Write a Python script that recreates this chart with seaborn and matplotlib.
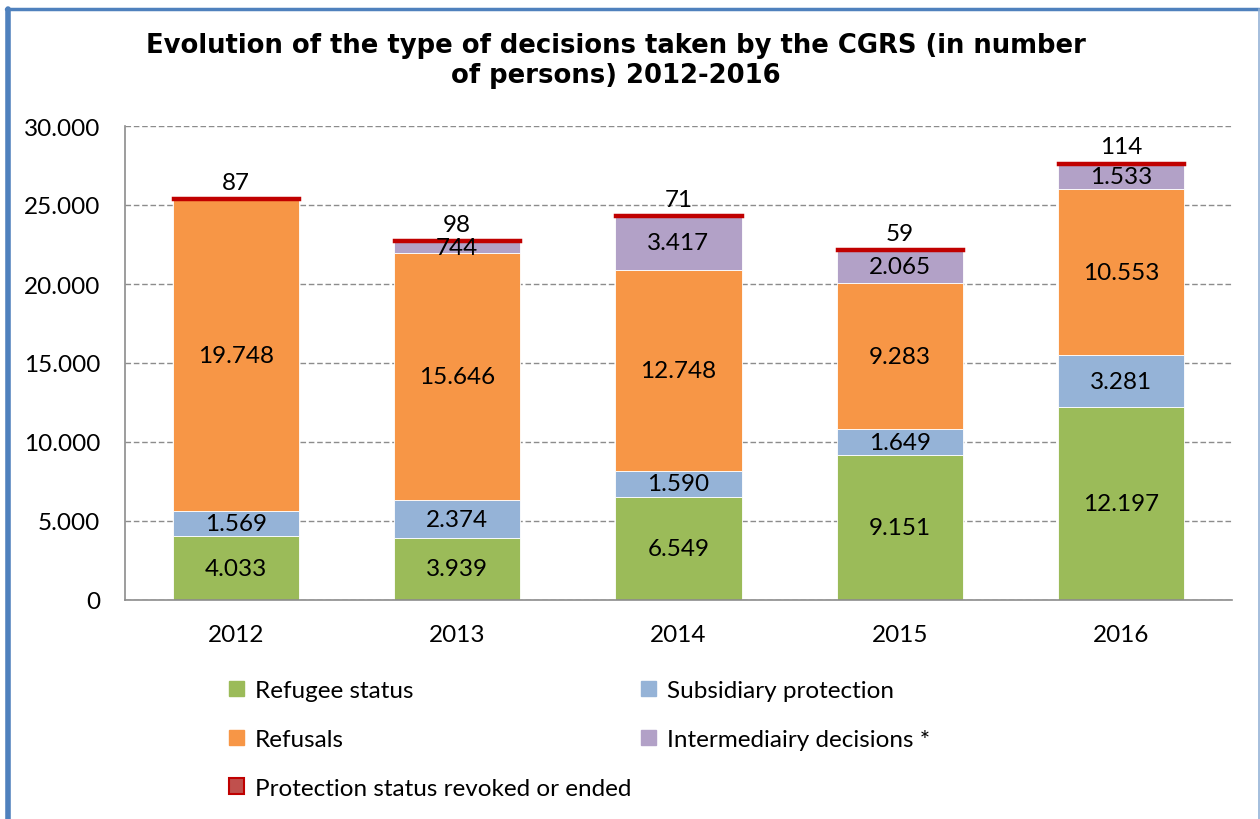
import matplotlib
matplotlib.use("Agg")
import matplotlib.pyplot as plt
import seaborn as sns
import numpy as np
import pandas as pd
from matplotlib.patches import Patch
from matplotlib.lines import Line2D

years = ["2012", "2013", "2014", "2015", "2016"]
refugee = [4033, 3939, 6549, 9151, 12197]
subsidiary = [1569, 2374, 1590, 1649, 3281]
refusals = [19748, 15646, 12748, 9283, 10553]
intermediary = [0, 744, 3417, 2065, 1533]
revoked = [87, 98, 71, 59, 114]

series_names = ["Refugee status", "Subsidiary protection", "Refusals",
                "Intermediairy decisions *", "Protection status revoked or ended"]
yticks = [0, 5000, 10000, 15000, 20000, 25000, 30000]
title = "Evolution of the type of decisions taken by the CGRS (in number\nof persons) 2012-2016"

colors = ["#9BBB59", "#95B3D7", "#F79646", "#B2A1C7", "#C0504D"]

sns.set_theme(style="white")
plt.rcParams['font.family'] = ['Lato', 'DejaVu Sans']
plt.rcParams['text.color'] = 'black'
plt.rcParams['xtick.color'] = 'black'
plt.rcParams['ytick.color'] = 'black'

FS = 17.5

fig = plt.figure(figsize=(12.6, 8.2), dpi=100)
ax = fig.add_axes([125/1260, 1-601/820, (1232-125)/1260, (601-127)/820])

def fmt(v):
    return f"{v:,}".replace(",", ".")

layers = [refugee, subsidiary, refusals, intermediary, revoked]
bottom = np.zeros(len(years))
W = 0.57
for i, (vals, name) in enumerate(zip(layers, series_names)):
    vals = np.array(vals, dtype=float)
    if i == 4:
        sns.barplot(x=years, y=vals, bottom=bottom, color=colors[i], width=W,
                    edgecolor="#C00000", linewidth=2.5, ax=ax, saturation=1)
    else:
        sns.barplot(x=years, y=vals, bottom=bottom, color=colors[i], width=W,
                    edgecolor="white", linewidth=0.6, ax=ax, saturation=1)
    for j, v in enumerate(vals):
        if v <= 0:
            continue
        if i == 4:
            ax.text(j, bottom[j] + v + 330, fmt(int(v)), ha="center", va="bottom",
                    fontsize=FS, color="black")
        else:
            ax.text(j, bottom[j] + v / 2, fmt(int(v)), ha="center", va="center",
                    fontsize=FS, color="black")
    bottom = bottom + vals

ax.set_ylim(0, 30000)
ax.set_xlim(-0.5, 4.5)
ax.set_yticks(yticks)
ax.set_yticklabels([fmt(t) for t in yticks], fontsize=FS)
ax.tick_params(axis="x", labelsize=FS, pad=17, length=0)
ax.tick_params(axis="y", pad=18, length=0)
ax.set_xlabel("")
ax.set_ylabel("")
ax.yaxis.grid(True, linestyle=(0, (4, 2)), color="#8c8c8c", linewidth=1)
ax.set_axisbelow(True)
for s in ["top", "right"]:
    ax.spines[s].set_visible(False)
for s in ["left", "bottom"]:
    ax.spines[s].set_color("#8c8c8c")
    ax.spines[s].set_linewidth(1.2)

fig.text(0.489, 1-61/820, title, ha="center", va="center", fontsize=18.6,
         fontweight="bold", family="DejaVu Sans", linespacing=1.2, color="black")

handles = [Patch(facecolor=colors[0], edgecolor=colors[0]),
           Patch(facecolor=colors[2], edgecolor=colors[2]),
           Patch(facecolor=colors[4], edgecolor="#C00000", linewidth=1.5),
           Patch(facecolor=colors[1], edgecolor=colors[1]),
           Patch(facecolor=colors[3], edgecolor=colors[3])]
labels = [series_names[0], series_names[2], series_names[4], series_names[1], series_names[3]]
fig.legend(handles, labels, loc="upper left", bbox_to_anchor=(229/1260, 1-681/820),
           ncol=2, frameon=False, fontsize=FS, handlelength=0.62, handleheight=0.62,
           handletextpad=0.45, columnspacing=0.4, labelspacing=1.15, borderpad=0,
           borderaxespad=0)

# outer frame
fig.add_artist(Line2D([7.5/1260, 7.5/1260], [0, 1-9.5/820], color="#4F81BD", linewidth=4, transform=fig.transFigure))
fig.add_artist(Line2D([5.5/1260, 1258.5/1260], [1-9.5/820, 1-9.5/820], color="#4F81BD", linewidth=2.5, transform=fig.transFigure))
fig.add_artist(Line2D([1258.5/1260, 1258.5/1260], [0, 1-9.5/820], color="#95B3D7", linewidth=1.2, transform=fig.transFigure))

fig.savefig("out.png", dpi=100, facecolor="white")
